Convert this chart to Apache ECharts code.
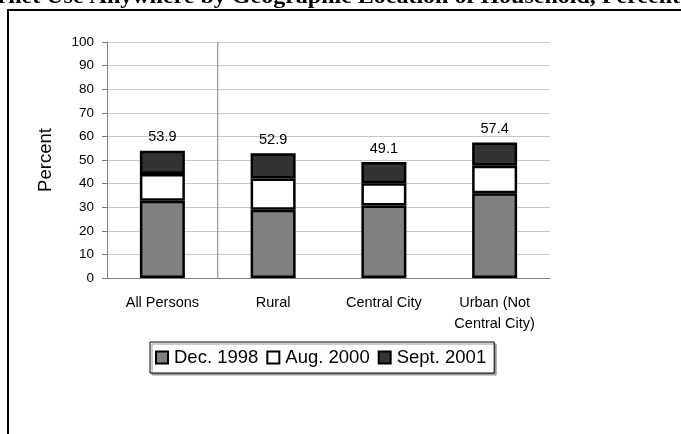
<!DOCTYPE html>
<html>
<head>
<meta charset="utf-8">
<script src="https://cdn.jsdelivr.net/npm/echarts@6/dist/echarts.min.js"></script>
<style>
  html, body { margin: 0; padding: 0; background: #fff; }
  #myChart { width: 681px; height: 434px; }
</style>
</head>
<body>
<div id="myChart"></div>
<script>
  // 数据
  var categories = ["All Persons", "Rural", "Central City", "Urban (Not\nCentral City)"];
  var dec1998 = [32.7, 28.9, 30.7, 35.9];
  var aug2000 = [11.4, 13.3, 9.4, 11.7];
  var sept2001 = [9.8, 10.7, 9.0, 9.8];
  var totals = [53.9, 52.9, 49.1, 57.4];
  var yTicks = [0, 10, 20, 30, 40, 50, 60, 70, 80, 90, 100];
  // 分隔线位置（类目边界）
  var separatorAt = [[1, 0], [1, 100]];

  var myChart = echarts.init(document.getElementById("myChart"));
  var sans = "'Liberation Sans', Arial, sans-serif";

  myChart.setOption({
    animation: false,
    backgroundColor: "#fff",
    graphic: [
      {
        type: "rect",
        shape: { x: 8, y: 10, width: 700, height: 500 },
        style: { fill: null, stroke: "#000", lineWidth: 2 }
      },
      {
        type: "text",
        x: 680,
        y: 8,
        scaleX: 1.2,
        style: {
          text: "Internet Use Anywhere by Geographic Location of Household, Percent",
          font: "bold 20px 'Liberation Serif', 'Times New Roman', serif",
          fill: "#000",
          textAlign: "right",
          textVerticalAlign: "bottom"
        }
      }
    ],
    grid: {
      left: 107,
      right: 131,
      top: 42,
      bottom: 156
    },
    legend: {
      left: 150,
      top: 342,
      padding: [6, 8, 6, 5],
      itemGap: 8,
      itemWidth: 12,
      itemHeight: 12,
      icon: "rect",
      borderColor: "#000",
      borderWidth: 1,
      shadowColor: "#999",
      shadowOffsetX: 2,
      shadowOffsetY: 2,
      shadowBlur: 0,
      backgroundColor: "#fff",
      textStyle: { fontFamily: sans, fontSize: 18.5, color: "#000", padding: [0, 0, 0, 1] },
      data: ["Dec. 1998", "Aug. 2000", "Sept. 2001"]
    },
    xAxis: [
      {
        type: "category",
        data: categories,
        axisLine: { lineStyle: { color: "#808080", width: 1 } },
        axisTick: { show: false },
        splitLine: { show: false },
        axisLabel: {
          fontFamily: sans,
          fontSize: 14.5,
          color: "#000",
          margin: 14,
          lineHeight: 21,
          interval: 0
        }
      },
      {
        type: "value",
        min: 0,
        max: categories.length,
        show: false
      }
    ],
    yAxis: {
      type: "value",
      min: yTicks[0],
      max: yTicks[yTicks.length - 1],
      interval: 10,
      name: "Percent",
      nameLocation: "middle",
      nameGap: 52,
      nameRotate: 90,
      nameTextStyle: { fontFamily: sans, fontSize: 18.5, color: "#000" },
      axisLine: { show: true, lineStyle: { color: "#808080", width: 1 } },
      axisTick: { show: true, length: 5, lineStyle: { color: "#808080" } },
      axisLabel: { fontFamily: sans, fontSize: 13.5, color: "#000", margin: 13 },
      splitLine: { lineStyle: { color: "#c8c8c8", width: 1 } }
    },
    series: [
      {
        name: "Dec. 1998",
        type: "bar",
        stack: "total",
        barWidth: 45,
        data: dec1998,
        itemStyle: { color: "#808080", borderColor: "#000", borderWidth: 2.5 }
      },
      {
        name: "Aug. 2000",
        type: "bar",
        stack: "total",
        barWidth: 45,
        data: aug2000,
        itemStyle: { color: "#ffffff", borderColor: "#000", borderWidth: 2.5 }
      },
      {
        name: "Sept. 2001",
        type: "bar",
        stack: "total",
        barWidth: 45,
        data: sept2001,
        itemStyle: { color: "#333333", borderColor: "#000", borderWidth: 2.5 },
        label: {
          show: true,
          position: "top",
          distance: 6,
          fontFamily: sans,
          fontSize: 14.5,
          color: "#000",
          formatter: function (p) { return totals[p.dataIndex].toFixed(1); }
        }
      },
      {
        name: "separator",
        type: "line",
        xAxisIndex: 1,
        data: separatorAt,
        symbol: "none",
        silent: true,
        z: 1,
        lineStyle: { color: "#808080", width: 1 }
      }
    ]
  });
</script>
</body>
</html>
